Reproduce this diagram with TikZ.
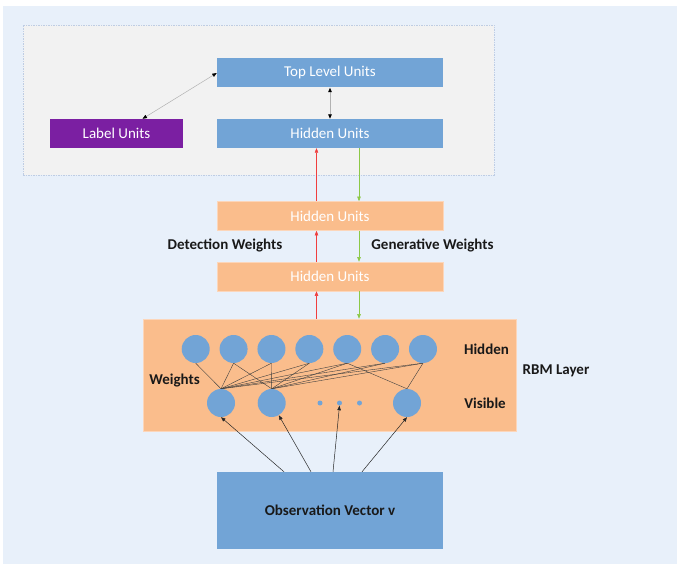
\documentclass[tikz,border=0pt]{standalone}
\usepackage{fontspec}
\setmainfont{Carlito}
\usetikzlibrary{arrows.meta,positioning,calc}
\definecolor{bgblue}{RGB}{232,240,250}
\definecolor{panelgray}{RGB}{242,242,242}
\definecolor{panelline}{RGB}{190,205,228}
\definecolor{boxblue}{RGB}{114,164,214}
\definecolor{boxpurple}{RGB}{123,31,162}
\definecolor{boxorange}{RGB}{250,189,140}
\definecolor{orangeline}{RGB}{252,214,186}
\definecolor{upred}{RGB}{240,62,62}
\definecolor{downgreen}{RGB}{140,200,70}

\begin{document}
\begin{tikzpicture}[x=1pt,y=-1pt,font=\fontsize{15}{18}\selectfont,
 tip/.style={-{Triangle[length=4.5pt,width=3.5pt]}},
 unit/.style={rectangle,minimum width=226pt,minimum height=29pt,inner sep=0pt,text=white},
 blu/.style={unit,fill=boxblue},
 org/.style={unit,fill=boxorange,draw=orangeline,line width=0.6pt},
 hid/.style={circle,fill=boxblue,minimum size=28pt,inner sep=0pt},
 smalldot/.style={circle,fill=boxblue,minimum size=5pt,inner sep=0pt},
 lbl/.style={font=\fontsize{15}{18}\selectfont\bfseries,text=black!90},
 wt/.style={draw=black!75,line width=0.4pt}]
% background and upper panel
\fill[bgblue] (3,6) rectangle (677,564);
\useasboundingbox (0,0) rectangle (677,564);
\node[draw=panelline,dash pattern=on 1.5pt off 1pt,fill=panelgray,minimum width=471pt,minimum height=150pt,inner sep=0pt] (panel) at (258.5,100) {};
\node[blu] (top) at (330,73) {Top Level Units};
\node[blu] (hid3) at (330,133.5) {Hidden Units};
\node[unit,fill=boxpurple,minimum width=133pt] (label) at (116.5,133.5) {Label Units};
\node[org] (hid2) at (330,216) {Hidden Units};
\node[org] (hid1) at (330,276.5) {Hidden Units};
\node[fill=boxorange,draw=orangeline,line width=0.6pt,minimum width=373pt,minimum height=112pt,inner sep=0pt] (rbm) at (329.5,375) {};
\node[unit,fill=boxblue,minimum height=77pt,text=black!90,font=\fontsize{15}{18}\selectfont\bfseries] (obs) at (330,510.5) {Observation Vector v};
% labels
\node[lbl] (det) at (225,245.5) {Detection Weights};
\node[lbl] (gen) at (432.5,245.5) {Generative Weights};
\node[lbl] (wts) at (174.5,381) {Weights};
\node[lbl] (hidlbl) at (486.5,349) {Hidden};
\node[lbl] (vislbl) at (485,403) {Visible};
\node[lbl] (rbmlbl) at (556,371) {RBM Layer};
% RBM units
\foreach \i in {1,...,7}
  \node[hid] (h\i) at ({195.7+37.88*(\i-1)},349) {};
\node[hid] (v1) at (221,403) {};
\node[hid] (v2) at (271.7,403) {};
\node[hid] (v3) at (407,403) {};
\node[smalldot] (d1) at (320,403) {};
\node[smalldot] (d2) at (339.5,403) {};
\node[smalldot] (d3) at (359.5,403) {};
\foreach \j in {1,...,7} \draw[wt] (v1.north) -- (h\j.south);
\foreach \j in {2,...,7} \draw[wt] (v2.north) -- (h\j.south);
\foreach \j in {5,7} \draw[wt] (v3.north) -- (h\j.south);
% upper connectors
\draw[{Triangle[length=4.5pt,width=3.5pt,color=black]}-{Triangle[length=4.5pt,width=3.5pt,color=black]},black!30,line width=0.5pt] ([xshift=26pt]label.north) -- (top.west);
\draw[{Triangle[length=4.5pt,width=3.5pt,color=black]}-{Triangle[length=4.5pt,width=3.5pt,color=black]},black!30,line width=0.8pt] (top) -- (hid3);
\draw[tip,upred,line width=0.5pt] ([xshift=-13.5pt]hid2.north) -- ([xshift=-13.5pt]hid3.south);
\draw[tip,upred,line width=0.5pt] ([xshift=-13.5pt]hid1.north) -- ([xshift=-13.5pt]hid2.south);
\draw[tip,upred,line width=0.5pt] ([xshift=-13pt]rbm.north) -- ([xshift=-13.5pt]hid1.south);
\draw[tip,downgreen,line width=0.5pt] ([xshift=29pt]hid3.south) -- ([xshift=29pt]hid2.north);
\draw[tip,downgreen,line width=0.5pt] ([xshift=29pt]hid2.south) -- ([xshift=29pt]hid1.north);
\draw[tip,downgreen,line width=0.5pt] ([xshift=29pt]hid1.south) -- ([xshift=29.5pt]rbm.north);
% observation arrows
\draw[tip,black!85,line width=0.5pt] ([xshift=-46pt]obs.north) -- (v1.south);
\draw[tip,black!85,line width=0.5pt] ([xshift=-19pt]obs.north) -- (v2.-60);
\draw[tip,black!85,line width=0.5pt] ([xshift=3pt]obs.north) -- (d2.south);
\draw[tip,black!85,line width=0.5pt] ([xshift=32pt]obs.north) -- (v3.south);
\end{tikzpicture}
\end{document}
